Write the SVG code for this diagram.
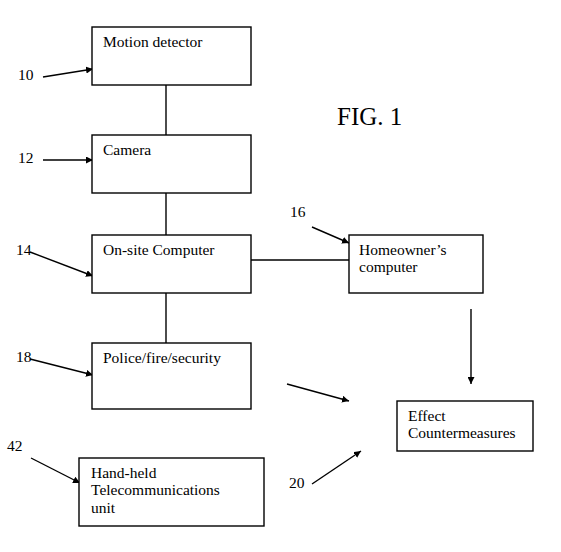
<svg xmlns="http://www.w3.org/2000/svg" width="561" height="552" viewBox="0 0 561 552">
<style>
.box{fill:#fff;stroke:#000;stroke-width:1.4}
.t{font-family:"Liberation Serif","Times New Roman",serif;font-size:15.5px;fill:#000}
.ln{stroke:#000;stroke-width:1.4;fill:none}
.ar{stroke:#000;stroke-width:1.4;fill:none;marker-end:url(#ah)}
</style>
<defs>
<marker id="ah" viewBox="0 0 10 10" refX="10" refY="5" markerWidth="7" markerHeight="7" markerUnits="userSpaceOnUse" orient="auto">
<path d="M0,0 L10,5 L0,10 z" fill="#000"/>
</marker>
</defs>
<rect width="561" height="552" fill="#fff"/>
<g id="connectors">
<line class="ln" x1="166" y1="85" x2="166" y2="135"/>
<line class="ln" x1="166" y1="193" x2="166" y2="235"/>
<line class="ln" x1="166" y1="293" x2="166" y2="343"/>
<line class="ln" x1="251" y1="260" x2="349" y2="260"/>
<line class="ar" x1="471" y1="309" x2="471" y2="384"/>
<line class="ar" x1="287" y1="384" x2="349" y2="401"/>
<line class="ar" x1="312" y1="484" x2="361" y2="451"/>
<line class="ar" x1="43" y1="77" x2="93" y2="69"/>
<line class="ar" x1="43" y1="160" x2="93" y2="160"/>
<line class="ar" x1="30" y1="252" x2="93" y2="276"/>
<line class="ar" x1="30" y1="359" x2="93" y2="375"/>
<line class="ar" x1="312" y1="227" x2="349" y2="243"/>
<line class="ar" x1="31" y1="458" x2="80" y2="483"/>
</g>
<g id="motion-detector">
<rect class="box" x="92" y="27" width="159" height="58"/>
<text class="t" x="103" y="47">Motion detector</text>
</g>
<g id="camera">
<rect class="box" x="92" y="135" width="159" height="58"/>
<text class="t" x="103" y="155">Camera</text>
</g>
<g id="onsite-computer">
<rect class="box" x="92" y="235" width="159" height="58"/>
<text class="t" x="103" y="255">On-site Computer</text>
</g>
<g id="police">
<rect class="box" x="92" y="343" width="159" height="66"/>
<text class="t" x="103" y="363">Police/fire/security</text>
</g>
<g id="homeowner-computer">
<rect class="box" x="349" y="235" width="134" height="58"/>
<text class="t" x="359" y="255">Homeowner’s</text>
<text class="t" x="359" y="272">computer</text>
</g>
<g id="effect-countermeasures">
<rect class="box" x="397" y="401" width="136" height="50"/>
<text class="t" x="408" y="421">Effect</text>
<text class="t" x="408" y="438">Countermeasures</text>
</g>
<g id="handheld">
<rect class="box" x="79" y="458" width="185" height="68"/>
<text class="t" x="91" y="478">Hand-held</text>
<text class="t" x="91" y="495">Telecommunications</text>
<text class="t" x="91" y="513">unit</text>
</g>
<g id="labels">
<text class="t" x="18" y="80">10</text>
<text class="t" x="18" y="163">12</text>
<text class="t" x="16" y="255">14</text>
<text class="t" x="16" y="362">18</text>
<text class="t" x="290" y="217">16</text>
<text class="t" x="7" y="451">42</text>
<text class="t" x="289" y="488">20</text>
<text x="337" y="125" style="font-family:'Liberation Serif','Times New Roman',serif;font-size:25px;fill:#000">FIG. 1</text>
</g>
</svg>
